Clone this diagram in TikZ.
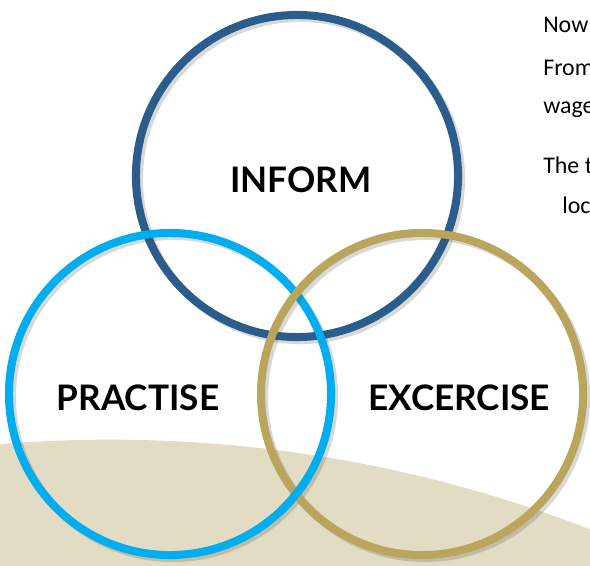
\documentclass[tikz,border=0pt]{standalone}
\usepackage{fontspec}
\setmainfont{Carlito}
\newfontfamily\wordfont{Lato}
\usepackage{xcolor}
\usetikzlibrary{positioning}

\definecolor{informblue}{HTML}{2A5D8C}
\definecolor{practiseblue}{HTML}{00AEEF}
\definecolor{excercisegold}{HTML}{B9A65C}
\definecolor{ground}{HTML}{E3DCC4}

\begin{document}
\begin{tikzpicture}[x=0.025cm, y=-0.025cm, node distance=6.3cm]

	\tikzstyle{ring}=[circle, line width=5.7pt, minimum size=8.05cm, inner sep=0pt, outer sep=0pt]
	\tikzstyle{shade}=[ring, draw=black!70, opacity=0.22]
	\tikzstyle{word}=[anchor=base, font=\wordfont\bfseries\fontsize{25}{30}\selectfont]
	\tikzstyle{note}=[anchor=base west, inner sep=0pt, font=\fontsize{17}{20}\selectfont]

	\useasboundingbox (0,0) rectangle (590,565);
	\clip (0,0) rectangle (590,565);

	% ground behind the rings
	\fill[ground] (110,1764) circle [radius=33.1cm];

	% the three rings, each with its shadow
	\node[shade] (informshade) at (300,179) {};
	\node[ring, draw=informblue] (inform) at (297,176) {};
	\node[shade] (practiseshade) at (173,397) {};
	\node[ring, draw=practiseblue] (practise) at (170,394) {};
	\node[shade, right of=practiseshade] (excerciseshade) {};
	\node[ring, draw=excercisegold, right of=practise] (excercise) {};
	% practise passes over excercise at the bottom
	\draw[practiseblue, line width=5.7pt] (practise.-46) arc (-46:-31:4.025cm);

	% labels
	\node[word] (informtxt) at (301,192) {INFORM};
	\node[word] (practisetxt) at (138,410) {PRACTISE};
	\node[word] (excercisetxt) at (459,410) {EXCERCISE};

	% text cut off at the right
	\node[note] (now) at (543,33) {Now};
	\node[note] (from) at (543,75) {From};
	\node[note] (wage) at (543,113) {wage};
	\node[note] (the) at (543,173) {The t};
	\node[note] (loc) at (562,213) {loc};

\end{tikzpicture}
\end{document}
